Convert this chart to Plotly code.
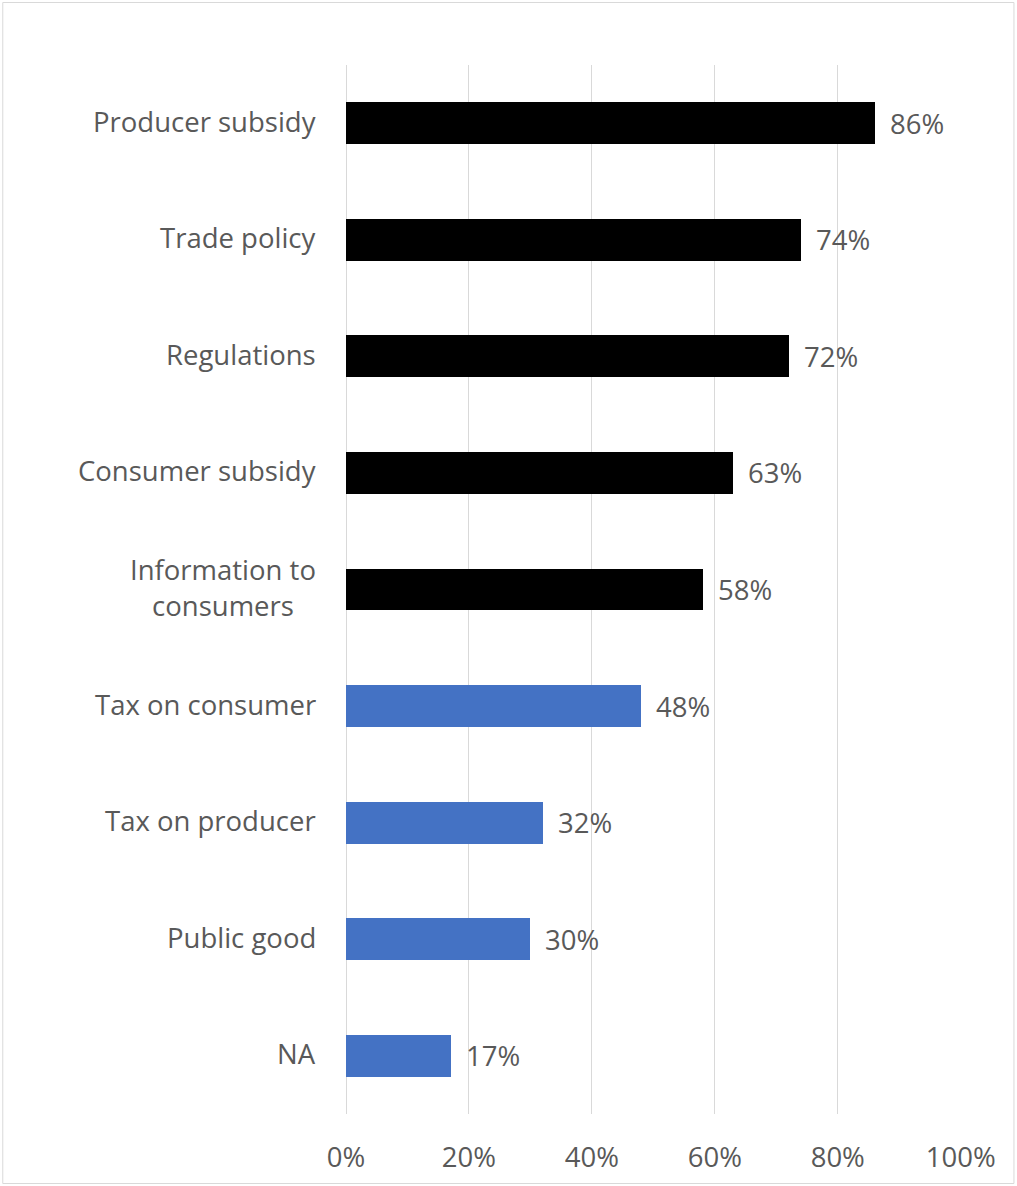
import plotly.graph_objects as go

categories = ["Producer subsidy", "Trade policy", "Regulations", "Consumer subsidy",
              "Information to<br>consumers", "Tax on consumer", "Tax on producer",
              "Public good", "NA"]
values = [86, 74, 72, 63, 58, 48, 32, 30, 17]
colors = ["#000000"] * 5 + ["#4472C4"] * 4
x_ticks = [0, 20, 40, 60, 80, 100]
x_tick_labels = [f"{t}%" for t in x_ticks]

FONT = "Open Sans, Segoe UI, sans-serif"
TXT = "#595959"
FS = 27.5

fig = go.Figure(go.Bar(
    x=values, y=categories, orientation="h",
    marker=dict(color=colors, line=dict(width=0)),
    width=0.36, hoverinfo="skip",
))

annotations = []
for c, v in zip(categories, values):
    annotations.append(dict(x=v, y=c, xref="x", yref="y", text=f"{v}%",
                            showarrow=False, xanchor="left", yanchor="middle",
                            xshift=13, font=dict(family=FONT, size=FS, color=TXT)))
    annotations.append(dict(x=0, y=c, xref="paper", yref="y", text=c,
                            showarrow=False, xanchor="right", yanchor="middle",
                            align="center", xshift=-28, yshift=2,
                            font=dict(family=FONT, size=FS, color=TXT)))

fig.update_layout(
    width=1017, height=1186,
    margin=dict(l=346, r=55.5, t=65, b=72),
    paper_bgcolor="white", plot_bgcolor="white",
    showlegend=False,
    bargap=0,
    font=dict(family=FONT, size=FS, color=TXT),
    xaxis=dict(range=[0, 100.05], tickvals=x_ticks, ticktext=x_tick_labels,
               showgrid=True, gridcolor="#d9d9d9", gridwidth=1,
               zeroline=True, zerolinecolor="#d9d9d9", zerolinewidth=1,
               showline=False, ticks="",
               ticklabelstandoff=24,
               tickfont=dict(family=FONT, size=FS, color=TXT)),
    yaxis=dict(autorange="reversed", showticklabels=False, showgrid=False,
               zeroline=False, showline=False, ticks=""),
    annotations=annotations,
    shapes=[dict(type="rect", xref="paper", yref="paper",
                 x0=(2.5 - 346) / 615.5, x1=(1014.5 - 346) / 615.5,
                 y0=(1114 - 1183.5) / 1049, y1=(1114 - 2.5) / 1049,
                 line=dict(color="#d9d9d9", width=1), fillcolor="rgba(0,0,0,0)",
                 layer="below")],
)

fig.write_html("out.html")
